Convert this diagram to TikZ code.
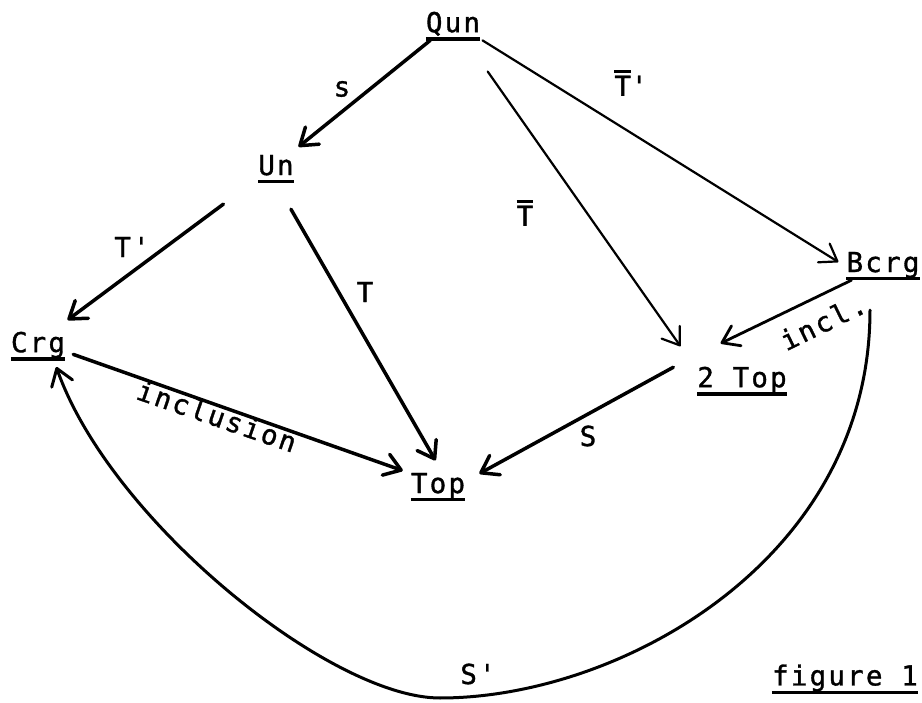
\documentclass[tikz,border=0pt]{standalone}
\usepackage{fontspec}
\newfontfamily\tw[LetterSpace=8,Ligatures=TeXOff,FakeBold=1.2]{DejaVu Sans Mono}
\usetikzlibrary{arrows.meta}
\newcommand\barred[1]{\vbox{\hrule height 3pt\kern 2.5pt\hbox{#1}}}
\tikzset{
  cat/.style={font=\tw\fontsize{27.5}{30}\selectfont, inner sep=8pt, text depth=0pt,
    append after command={([xshift=8pt,yshift=1.5pt]\tikzlastnode.south west)
      edge[line width=3.2pt] ([xshift=-8pt,yshift=1.5pt]\tikzlastnode.south east)}},
  lab/.style={font=\tw\fontsize{27.5}{30}\selectfont, inner sep=0pt},
  map/.style={line width=3.5pt, line cap=round, -{Straight Barb[length=16pt,width=22pt,round]}},
  thin map/.style={map, line width=2.2pt}
}
\begin{document}
\begin{tikzpicture}[x=1pt,y=-1pt]
\useasboundingbox (0,0) rectangle (922,703);

\node[cat] (qun) at (453,22) {Qun};
\node[cat] (un) at (276,165) {Un};
\node[cat] (crg) at (38,342) {Crg};
\node[cat] (bcrg) at (883,262) {Bcrg};
\node[cat] (twotop) at (742,377) {2 Top};
\node[cat] (top) at (438,483) {Top};
\node[cat] (fig) at (845,675) {figure 1};

\node[lab] (ls) at (342,89) {s};
\node[lab] (ltbp) at (631,83) {\barred{T}'};
\node[lab] (ltb) at (525,213) {\barred{T}};
\node[lab] (ltp) at (132,247) {T'};
\node[lab] (lt) at (365,292) {T};
\node[lab, rotate=-19] (lincl) at (217,416) {inclusion};
\node[lab, rotate=26] (lin) at (823,322) {incl.};
\node[lab] (lsm) at (588,436) {S};
\node[lab] (lsp) at (478,674) {S'};

\draw[map] (qun) -- (un);
\draw[thin map] (qun) -- (bcrg.west);
\draw[thin map, shorten <=38pt, shorten >=15pt] (qun) -- (twotop.north west);
\draw[map, shorten <=35pt, shorten >=6pt] (un) -- (crg);
\draw[map, shorten <=30pt, shorten >=5pt] (un.south) -- (top.north);
\draw[map] (crg) -- (top);
\draw[map, line width=2.8pt, shorten >=35pt] (bcrg.-150) -- (twotop.north west);
\draw[map, shorten <=18pt, shorten >=7pt] (twotop.north west) -- ([yshift=6pt]top.east);

\coordinate (low) at (440,698);
\draw[map, line width=3pt, shorten <=30pt, shorten >=7pt] ([xshift=-13pt]bcrg.south)
  .. controls (870,560) and (620,698) .. (low)
  .. controls (330,698) and (110,520) .. ([xshift=16pt]crg.south);
\end{tikzpicture}
\end{document}
